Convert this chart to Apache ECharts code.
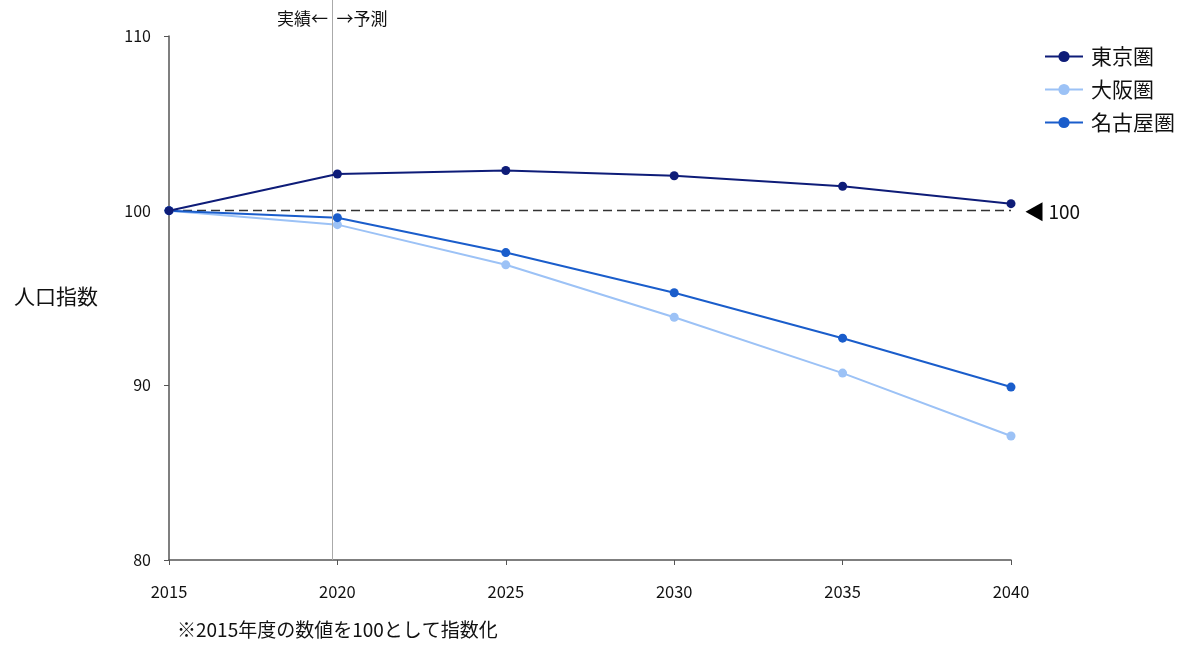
<!DOCTYPE html>
<html><head><meta charset="utf-8">
<script src="https://cdn.jsdelivr.net/npm/echarts@6/dist/echarts.min.js"></script>
<style>html,body{margin:0;padding:0;background:#fff}#c{width:1200px;height:659px}</style>
</head><body><div id="c"></div>
<script>
const years = [2015, 2020, 2025, 2030, 2035, 2040];
const tokyo = [100, 102.1, 102.3, 102.0, 101.4, 100.4];
const osaka = [100, 99.2, 96.9, 93.9, 90.7, 87.1];
const nagoya = [100, 99.6, 97.6, 95.3, 92.7, 89.9];
const names = ['東京圏', '大阪圏', '名古屋圏'];
const colors = ['#0e1c78', '#9cc2f6', '#1a5dcb'];
const splitYear = 2019.85;
const baseValue = 100;
const FONT = '"Noto Sans CJK JP", sans-serif';

const pairs = a => years.map((y, i) => [y, a[i]]);
const chart = echarts.init(document.getElementById('c'));
const mk = (name, data, color, extra) => Object.assign({
  name, type: 'line', data: pairs(data), color,
  symbol: 'circle', symbolSize: 9, lineStyle: { width: 2, color },
  itemStyle: { color }, z: 3
}, extra || {});

chart.setOption({
  animation: false,
  textStyle: { fontFamily: FONT },
  grid: [
    { left: 169, right: 189, top: 36, bottom: 99, outerBoundsMode: 'none', containLabel: false },
    { left: 169, right: 189, top: 0, bottom: 99, outerBoundsMode: 'none', containLabel: false }
  ],
  legend: {
    orient: 'vertical', left: 1044, top: 46, itemGap: 12, padding: 0,
    itemWidth: 38, itemHeight: 14,
    textStyle: { fontSize: 21, lineHeight: 21, color: '#111', fontFamily: FONT, padding: [0, 0, 0, 3] },
    data: names
  },
  xAxis: [{
    type: 'value', min: 2015, max: 2040, interval: 5,
    axisLine: { lineStyle: { color: '#555', width: 1.5 } },
    axisTick: { show: true, length: 5, lineStyle: { color: '#555' } },
    axisLabel: { fontSize: 16.5, color: '#111', margin: 23, formatter: v => String(v) },
    splitLine: { show: false }
  }, {
    gridIndex: 1, type: 'value', min: 2015, max: 2040, interval: 5, show: false
  }],
  yAxis: [{
    type: 'value', min: 80, max: 110, interval: 10,
    axisLine: { show: true, lineStyle: { color: '#555', width: 1.5 } },
    axisTick: { show: true, length: 5, lineStyle: { color: '#555' } },
    axisLabel: { fontSize: 16, color: '#111', margin: 18 },
    splitLine: { show: false }
  }, {
    gridIndex: 1, type: 'value', min: 0, max: 1, show: false
  }],
  series: [
    {
      type: 'line', xAxisIndex: 1, yAxisIndex: 1, data: [], silent: true, z: 1,
      markLine: {
        silent: true, symbol: ['none', 'none'], animation: false,
        data: [{ xAxis: splitYear }],
        lineStyle: { type: 'solid', color: '#aaa', width: 1 },
        label: { show: false }
      }
    },
    mk(names[0], tokyo, colors[0], {
      z: 5,
      markLine: {
        silent: true, symbol: ['none', 'none'],
        data: [
          [{ coord: [2015, baseValue] }, { coord: [2040, baseValue] }]
        ],
        lineStyle: { type: [9, 5], color: '#333', width: 1.3 },
        label: { show: false }, z: 1
      },
      markPoint: {
        silent: true,
        data: [{ coord: [2040, baseValue], symbol: 'triangle', symbolSize: [19, 17], symbolRotate: 90, symbolOffset: [23, 1],
          itemStyle: { color: '#000' },
          label: { show: true, position: 'right', distance: 6, formatter: String(baseValue), fontSize: 19, color: '#111', fontFamily: FONT } }]
      }
    }),
    mk(names[1], osaka, colors[1]),
    mk(names[2], nagoya, colors[2], {
      markLine: {
        silent: true, symbol: ['none', 'none'],
        data: [{ xAxis: splitYear }],
        lineStyle: { color: 'rgba(0,0,0,0)', width: 0 },
        label: { show: true, position: 'end', formatter: '実績←\u2002→予測', fontSize: 17, color: '#111', fontFamily: FONT, distance: 9 }
      }
    })
  ],
  graphic: [
    { type: 'text', left: 14, top: 286,
      style: { text: '人口指数', fontSize: 21, fill: '#111', fontFamily: FONT } },
    { type: 'text', left: 177, top: 620,
      style: { text: '※2015年度の数値を100として指数化', fontSize: 19, fill: '#111', fontFamily: FONT } }
  ]
});
</script></body></html>
